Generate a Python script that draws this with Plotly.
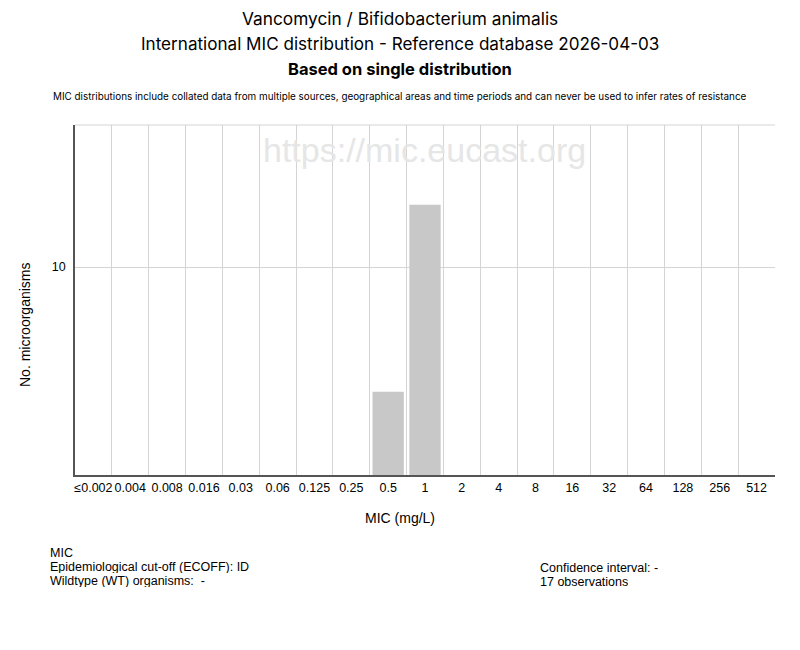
import plotly.graph_objects as go

# MIC classes and counts (Vancomycin / Bifidobacterium animalis)
mic_labels = ['≤0.002', '0.004', '0.008', '0.016', '0.03', '0.06', '0.125', '0.25',
              '0.5', '1', '2', '4', '8', '16', '32', '64', '128', '256', '512']
counts = [0, 0, 0, 0, 0, 0, 0, 0, 4, 13, 0, 0, 0, 0, 0, 0, 0, 0, 0]
y_ticks = [10]

font_main = 'Liberation Sans, Arial, sans-serif'
font_title = 'Inter, Liberation Sans, sans-serif'


def px_x(x):
    # pixel -> paper x (plot area 75..775)
    return (x - 75) / 700


def px_y(y):
    # pixel -> paper y (plot area 125..475)
    return (475 - y) / 350


fig = go.Figure()

fig.add_trace(go.Bar(x=mic_labels, y=counts,
                     marker={'color': '#c8c8c8', 'line': {'width': 0}},
                     showlegend=False))

fig.update_layout(width=800, height=650,
                  margin={'l': 75, 'r': 25, 't': 125, 'b': 175, 'autoexpand': False},
                  paper_bgcolor='white',
                  plot_bgcolor='white',
                  bargap=0.15,
                  font={'family': font_main, 'color': 'black'},
                  showlegend=False)

fig.update_xaxes(type='category',
                 categoryorder='array', categoryarray=mic_labels,
                 tickson='boundaries',
                 tickangle=0,
                 automargin=False,
                 showgrid=True, gridcolor='#d4d4d4', gridwidth=1,
                 showline=True, linecolor='#555555', linewidth=1.5,
                 ticks='', tickfont={'size': 12.5},
                 zeroline=False)

fig.update_yaxes(range=[0, 16.83],
                 tickvals=y_ticks,
                 automargin=False,
                 showgrid=True, gridcolor='#d4d4d4', gridwidth=1,
                 showline=True, linecolor='#555555', linewidth=1.5,
                 ticks='', tickfont={'size': 12.5},
                 ticklabelstandoff=5,
                 zeroline=False)

# top border of the plot area
fig.add_shape(type='line', xref='paper', yref='paper', x0=0, x1=1, y0=1, y1=1,
              line={'color': '#d4d4d4', 'width': 1})

titles = [
    ('Vancomycin / Bifidobacterium animalis', 18, 17.3),
    ('International MIC distribution - Reference database 2026-04-03', 44, 17.1),
    ('<b>Based on single distribution</b>', 69, 16.5),
    ('MIC distributions include collated data from multiple sources, geographical areas and time periods '
     'and can never be used to infer rates of resistance', 96, 9.9),
]
for text, ypix, size in titles:
    fig.add_annotation(text=text, xref='paper', yref='paper',
                       x=px_x(400), y=px_y(ypix),
                       xanchor='center', yanchor='middle', showarrow=False,
                       font={'size': size, 'color': 'black', 'family': font_title})

# axis titles
fig.add_annotation(text='MIC (mg/L)', xref='paper', yref='paper',
                   x=px_x(400), y=px_y(518), xanchor='center', yanchor='middle',
                   showarrow=False, font={'size': 14})
fig.add_annotation(text='No. microorganisms', xref='paper', yref='paper',
                   x=px_x(25), y=px_y(325), xanchor='center', yanchor='middle',
                   textangle=-90, showarrow=False, font={'size': 14})

# watermark
fig.add_annotation(text='https://mic.eucast.org', xref='paper', yref='paper',
                   x=px_x(424), y=px_y(150),
                   xanchor='center', yanchor='middle', showarrow=False,
                   font={'size': 34, 'color': '#e6e6e6'})

footer_left = ['MIC', 'Epidemiological cut-off (ECOFF): ID', 'Wildtype (WT) organisms:  -']
for i, line in enumerate(footer_left):
    fig.add_annotation(text=line, xref='paper', yref='paper',
                       x=px_x(48), y=px_y(552 + 14 * i),
                       xanchor='left', yanchor='middle', showarrow=False,
                       height=13, valign='middle',
                       font={'size': 12.5})

footer_right = ['Confidence interval: -', '17 observations']
for i, line in enumerate(footer_right):
    fig.add_annotation(text=line, xref='paper', yref='paper',
                       x=px_x(538), y=px_y(567 + 14 * i),
                       xanchor='left', yanchor='middle', showarrow=False,
                       height=13, valign='middle',
                       font={'size': 12.5})

fig.write_html('out.html', config={'displayModeBar': False},
               post_script="document.body.style.margin = '0px';")
